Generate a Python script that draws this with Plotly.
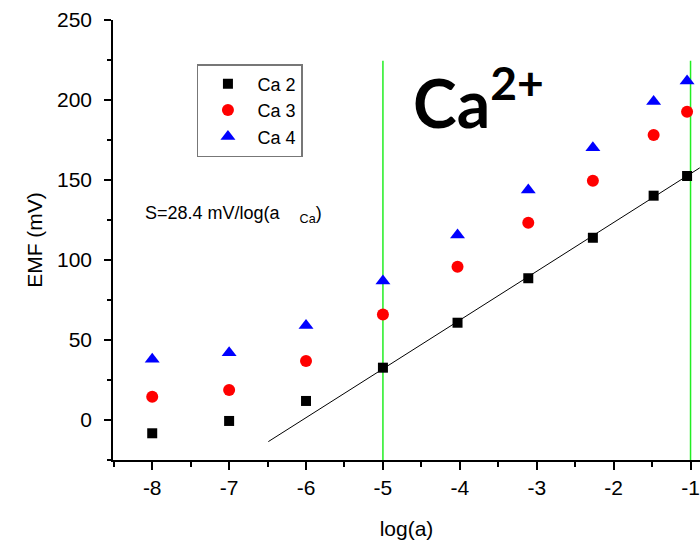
import plotly.graph_objects as go

# ---- data ----
log_a = [-8, -7, -6, -5, -4.03, -3.11, -2.27, -1.48, -1.045]
ca2 = [-8.3, -0.6, 11.9, 32.7, 60.8, 88.6, 113.9, 140.2, 152.5]
ca3 = [14.6, 18.8, 36.9, 66.0, 95.8, 123.3, 149.6, 178.1, 192.7]
ca4 = [37.9, 42.1, 59.0, 86.9, 115.7, 143.8, 170.2, 199.0, 211.9]

fit_x = [-6.49, -0.88]
fit_y = [-13.5, 157.6]

vline_x = [-5, -1]
vline_y = [-25, 224.5]

x_ticks = [-8, -7, -6, -5, -4, -3, -2, -1]
y_ticks = [0, 50, 100, 150, 200, 250]

FONT = "Arial, Liberation Sans, sans-serif"

fig = go.Figure()

for vx in vline_x:
    fig.add_trace(go.Scatter(x=[vx, vx], y=vline_y, mode="lines",
                             line=dict(color="#22ee22", width=1.5),
                             showlegend=False, hoverinfo="skip"))

fig.add_trace(go.Scatter(x=fit_x, y=fit_y, mode="lines",
                         line=dict(color="black", width=1),
                         showlegend=False, hoverinfo="skip"))

fig.add_trace(go.Scatter(x=log_a, y=ca2, mode="markers", name="Ca 2",
                         marker=dict(symbol="square", size=10, color="black")))
fig.add_trace(go.Scatter(x=log_a, y=ca3, mode="markers", name="Ca 3",
                         marker=dict(symbol="circle", size=12, color="red")))
fig.add_trace(go.Scatter(x=log_a, y=ca4, mode="markers", name="Ca 4",
                         marker=dict(symbol="triangle-up", size=13, color="blue")))

fig.add_annotation(xref="paper", yref="paper", x=0.051, y=0.559,
                   xanchor="left", yanchor="middle", showarrow=False,
                   text="S=28.4 mV/log(a    <sub>Ca</sub>)",
                   font=dict(family=FONT, size=18, color="black"))

fig.add_annotation(xref="paper", yref="paper", x=0.508, y=0.823,
                   xanchor="left", yanchor="middle", showarrow=False,
                   text="<b>Ca<sup>2+</sup></b>",
                   font=dict(family="Lato, Open Sans, sans-serif", size=66, color="black"))

fig.update_layout(
    width=700, height=542,
    margin=dict(l=113, r=0, t=20, b=82),
    paper_bgcolor="white", plot_bgcolor="white",
    font=dict(family=FONT, size=21, color="black"),
    showlegend=True,
    legend=dict(x=0.143, y=0.900, xanchor="left", yanchor="top",
                bgcolor="white", bordercolor="#777777", borderwidth=1.5,
                font=dict(family=FONT, size=18, color="black"),
                itemwidth=49),
    xaxis=dict(range=[-8.51, -0.877], tickvals=x_ticks,
               ticktext=[str(v) for v in x_ticks],
               automargin=False,
               showline=True, linecolor="black", linewidth=1.5,
               ticks="outside", ticklen=8, tickwidth=1.5, tickcolor="black",
               ticklabelstandoff=0,
               minor=dict(dtick=0.5, tick0=-8, ticks="outside", ticklen=5,
                          tickwidth=1.5, tickcolor="black", showgrid=False),
               showgrid=False, zeroline=False, mirror=False,
               title=dict(text="log(a)", font=dict(size=21), standoff=23)),
    yaxis=dict(range=[-25, 250], tickvals=y_ticks,
               automargin=False,
               showline=True, linecolor="black", linewidth=1.5,
               ticks="outside", ticklen=7, tickwidth=1.5, tickcolor="black",
               ticklabelstandoff=8,
               minor=dict(dtick=25, tick0=0, ticks="outside", ticklen=4,
                          tickwidth=1.5, tickcolor="black", showgrid=False),
               showgrid=False, zeroline=False, mirror=False,
               title=dict(text="EMF (mV)", font=dict(size=21), standoff=9)),
)

fig.write_html("out.html",
               config={"displayModeBar": False},
               post_script="document.body.style.margin='0';document.body.style.overflow='hidden';")
